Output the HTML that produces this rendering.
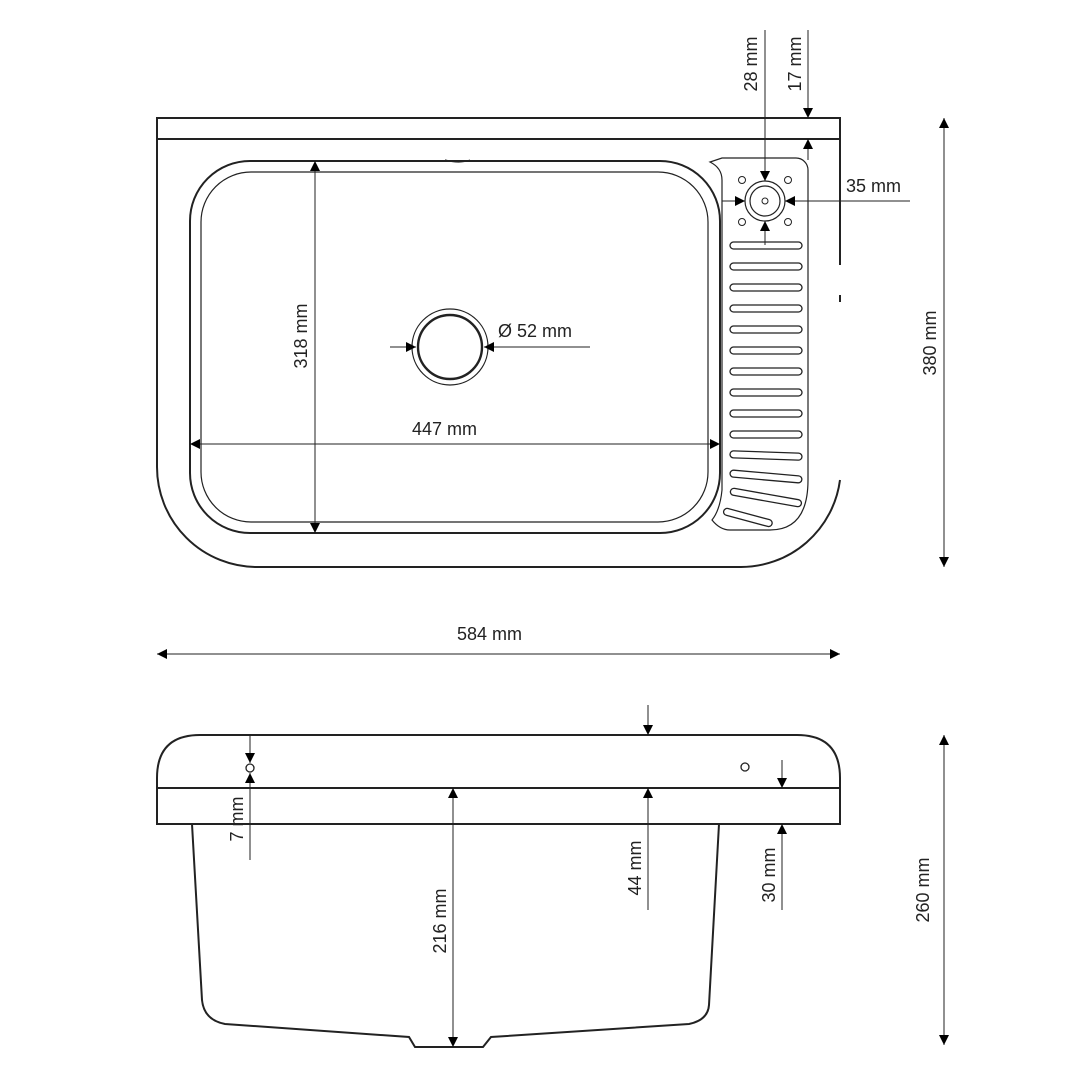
<!DOCTYPE html>
<html><head><meta charset="utf-8"><style>
html,body{margin:0;padding:0;background:#fff}
svg{display:block}
text{font-family:"Liberation Sans",sans-serif;font-size:18px;fill:#222}
</style></head><body>
<svg width="1080" height="1080" viewBox="0 0 1080 1080" xmlns="http://www.w3.org/2000/svg">
<defs>
<marker id="a" viewBox="0 0 10 10" refX="10" refY="5" markerWidth="12" markerHeight="10" orient="auto-start-reverse" markerUnits="userSpaceOnUse"><path d="M0,0 L10,5 L0,10z" fill="#000"/></marker>
</defs>
<g fill="none" stroke="#222" stroke-width="2">
<path d="M157,118 H840 V139 H157 Z"/>
<path d="M157,139 V467 A100,100 0 0 0 257,567 H740 A100,100 0 0 0 840,480"/>
<path d="M840,139 V265 M840,295 V302"/>
<rect x="190" y="161" width="530" height="372" rx="60"/>
<rect x="201" y="172" width="507" height="350" rx="50" stroke-width="1.2"/>
<path d="M445,160 Q460,164 470,160" stroke-width="1.2"/>
<circle cx="450" cy="347" r="38" stroke-width="1.2"/>
<circle cx="450" cy="347" r="32" stroke-width="2.4"/>
<path d="M722,158 H796 A12,12 0 0 1 808,170 V480 Q808,530 770,530 H730 Q720,530 712,520 Q720,510 722,490 V180 Q722,168 710,162 Z" stroke-width="1.2"/>
<circle cx="765" cy="201" r="20" stroke-width="1.2"/>
<circle cx="765" cy="201" r="15" stroke-width="1.2"/>
<circle cx="765" cy="201" r="3" stroke-width="1"/>
<circle cx="742" cy="180" r="3.5" stroke-width="1"/>
<circle cx="788" cy="180" r="3.5" stroke-width="1"/>
<circle cx="742" cy="222" r="3.5" stroke-width="1"/>
<circle cx="788" cy="222" r="3.5" stroke-width="1"/>
<g stroke-width="1.3">
<rect x="730" y="242" width="72" height="7" rx="3.5"/>
<rect x="730" y="263" width="72" height="7" rx="3.5"/>
<rect x="730" y="284" width="72" height="7" rx="3.5"/>
<rect x="730" y="305" width="72" height="7" rx="3.5"/>
<rect x="730" y="326" width="72" height="7" rx="3.5"/>
<rect x="730" y="347" width="72" height="7" rx="3.5"/>
<rect x="730" y="368" width="72" height="7" rx="3.5"/>
<rect x="730" y="389" width="72" height="7" rx="3.5"/>
<rect x="730" y="410" width="72" height="7" rx="3.5"/>
<rect x="730" y="431" width="72" height="7" rx="3.5"/>
<rect x="730" y="452" width="72" height="7" rx="3.5" transform="rotate(2 766 455)"/>
<rect x="730" y="473" width="72" height="7" rx="3.5" transform="rotate(5 766 476)"/>
<rect x="730" y="494" width="72" height="7" rx="3.5" transform="rotate(10 766 497)"/>
<rect x="723" y="514" width="50" height="7" rx="3.5" transform="rotate(15 748 517)"/>
</g>
<path d="M157,788 V778 Q157,735 200,735 H797 Q840,735 840,778 V788 Z"/>
<path d="M157,788 H840 V824 H157 Z"/>
<path d="M192,824 L202,1000 Q204,1020 225,1024 L409,1037 L415,1047 H483 L491,1037 L689,1024 Q708,1020 709,1005 L719,824"/>
<circle cx="250" cy="768" r="4" stroke-width="1.3"/>
<circle cx="745" cy="767" r="4" stroke-width="1.3"/>
</g>
<g stroke="#222" stroke-width="1" fill="none">
<line x1="315" y1="161" x2="315" y2="533" marker-start="url(#a)" marker-end="url(#a)"/>
<line x1="190" y1="444" x2="720" y2="444" marker-start="url(#a)" marker-end="url(#a)"/>
<line x1="390" y1="347" x2="416" y2="347" marker-end="url(#a)"/>
<line x1="590" y1="347" x2="484" y2="347" marker-end="url(#a)"/>
<line x1="765" y1="30" x2="765" y2="181" marker-end="url(#a)"/>
<line x1="765" y1="245" x2="765" y2="221" marker-end="url(#a)"/>
<line x1="808" y1="30" x2="808" y2="118" marker-end="url(#a)"/>
<line x1="808" y1="160" x2="808" y2="139" marker-end="url(#a)"/>
<line x1="722" y1="201" x2="745" y2="201" marker-end="url(#a)"/>
<line x1="910" y1="201" x2="785" y2="201" marker-end="url(#a)"/>
<line x1="944" y1="118" x2="944" y2="567" marker-start="url(#a)" marker-end="url(#a)"/>
<line x1="157" y1="654" x2="840" y2="654" marker-start="url(#a)" marker-end="url(#a)"/>
<line x1="250" y1="735" x2="250" y2="763" marker-end="url(#a)"/>
<line x1="250" y1="860" x2="250" y2="773" marker-end="url(#a)"/>
<line x1="453" y1="788" x2="453" y2="1047" marker-start="url(#a)" marker-end="url(#a)"/>
<line x1="648" y1="705" x2="648" y2="735" marker-end="url(#a)"/>
<line x1="648" y1="910" x2="648" y2="788" marker-end="url(#a)"/>
<line x1="782" y1="760" x2="782" y2="788" marker-end="url(#a)"/>
<line x1="782" y1="910" x2="782" y2="824" marker-end="url(#a)"/>
<line x1="944" y1="735" x2="944" y2="1045" marker-start="url(#a)" marker-end="url(#a)"/>
</g>
<text x="412" y="435">447 mm</text>
<text x="498" y="337">Ø 52 mm</text>
<text x="846" y="192">35 mm</text>
<text x="457" y="640">584 mm</text>
<text transform="translate(307,336) rotate(-90)" text-anchor="middle">318 mm</text>
<text transform="translate(757,64) rotate(-90)" text-anchor="middle">28 mm</text>
<text transform="translate(801,64) rotate(-90)" text-anchor="middle">17 mm</text>
<text transform="translate(936,343) rotate(-90)" text-anchor="middle">380 mm</text>
<text transform="translate(243,819) rotate(-90)" text-anchor="middle">7 mm</text>
<text transform="translate(446,921) rotate(-90)" text-anchor="middle">216 mm</text>
<text transform="translate(641,868) rotate(-90)" text-anchor="middle">44 mm</text>
<text transform="translate(775,875) rotate(-90)" text-anchor="middle">30 mm</text>
<text transform="translate(929,890) rotate(-90)" text-anchor="middle">260 mm</text>
</svg>
</body></html>
